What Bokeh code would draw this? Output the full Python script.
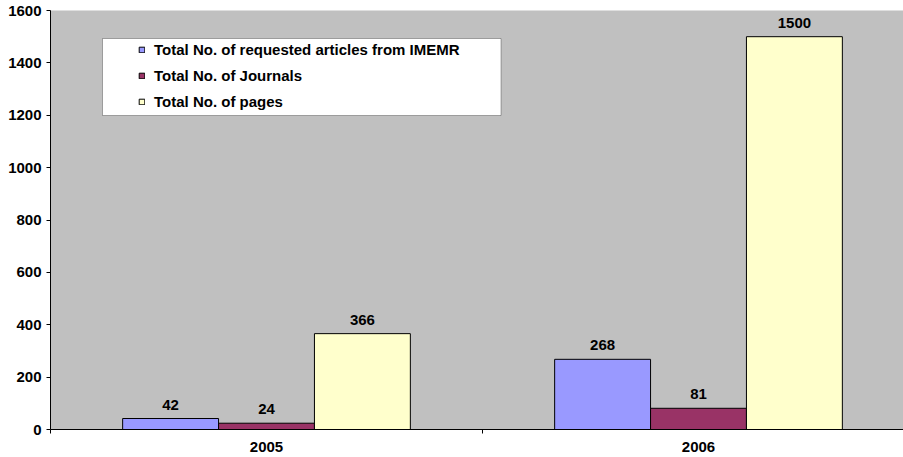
import numpy as np
from bokeh.plotting import figure
from bokeh.models import (Range1d, FixedTicker, Legend, LegendItem, BoxAnnotation,
                          ColumnDataSource)
from bokeh.core.properties import value
from bokeh.embed import file_html
from bokeh.resources import INLINE

# ---- data ----
years = ["2005", "2006"]
series_names = ["Total No. of requested articles from IMEMR",
                "Total No. of Journals",
                "Total No. of pages"]
articles = [42, 268]
journals = [24, 81]
pages = [366, 1500]
y_ticks = [0, 200, 400, 600, 800, 1000, 1200, 1400, 1600]

colors = ["#9999FF", "#993366", "#FFFFCC"]
FONT = "Liberation Sans"
FS = "15px"

# layout constants (pixels)
W, H = 903, 457
left_b, top_b, bottom_b = 50, 10, 28
frame_w = W - left_b
frame_h = H - top_b - bottom_b
frame_bottom = H - bottom_b
cat_px = 432.0

x_end = 0.5 + frame_w / cat_px
p = figure(width=W, height=H, output_backend="svg", toolbar_location=None,
           x_range=Range1d(0.5, x_end), y_range=Range1d(0, 1600),
           min_border_left=left_b, min_border_right=0,
           min_border_top=top_b, min_border_bottom=bottom_b)
p.background_fill_color = "#C0C0C0"
p.border_fill_color = "white"
p.outline_line_color = None
p.xgrid.visible = False
p.ygrid.visible = False

xc = np.arange(1, len(years) + 1)
bw = 0.222
offsets = [-bw, 0.0, bw]
series = [articles, journals, pages]

renderers = []
for vals, off, col in zip(series, offsets, colors):
    src = ColumnDataSource(dict(x=xc + off, top=vals, lab=[str(v) for v in vals]))
    r = p.vbar(x="x", top="top", width=bw, source=src, fill_color=col,
               line_color="black", line_width=1)
    renderers.append(r)
    p.text(x="x", y="top", text="lab", source=src, text_align="center",
           text_baseline="bottom", y_offset=-9, text_font=value(FONT),
           text_font_size=FS, text_font_style="bold", text_color="black")

# legend white box (drawn in data space from pixel constants)
def px_to_x(px):
    return 0.5 + (px - left_b) / cat_px

def py_to_y(py):
    return (frame_bottom - py) / frame_h * 1600

box = BoxAnnotation(left=px_to_x(102), right=px_to_x(500.5),
                    top=py_to_y(38), bottom=py_to_y(115),
                    fill_color="white", fill_alpha=1.0,
                    line_color="black", line_width=1)
p.add_layout(box)

legend = Legend(items=[LegendItem(label=n, renderers=[r]) for n, r in zip(series_names, renderers)],
                location=(88, 317), padding=0, margin=0,
                border_line_color=None, background_fill_alpha=0,
                label_text_font=FONT, label_text_font_size=FS,
                label_text_font_style="bold", label_text_color="black",
                glyph_width=7, glyph_height=7, label_standoff=9,
                label_height=21, spacing=5)
p.add_layout(legend)

# y axis
p.yaxis.ticker = FixedTicker(ticks=y_ticks)
p.yaxis.major_tick_out = 4
p.yaxis.major_tick_in = 0
p.yaxis.minor_tick_out = 0
p.yaxis.minor_tick_in = 0
p.yaxis.major_label_standoff = 5
p.yaxis.major_label_text_font = FONT
p.yaxis.major_label_text_font_size = FS
p.yaxis.major_label_text_font_style = "bold"
p.yaxis.major_label_text_color = "black"
p.yaxis.axis_line_color = "black"

# x axis: labels at category centers, ticks at boundaries
p.xaxis.ticker = FixedTicker(ticks=list(xc.astype(float)),
                             minor_ticks=[0.5, 1.5, 2.5])
p.xaxis.major_label_overrides = {float(i): y for i, y in zip(xc, years)}
p.xaxis.major_tick_out = 0
p.xaxis.major_tick_in = 0
p.xaxis.minor_tick_out = 4
p.xaxis.minor_tick_in = 0
p.xaxis.major_label_standoff = 8
p.xaxis.major_label_text_font = FONT
p.xaxis.major_label_text_font_size = FS
p.xaxis.major_label_text_font_style = "bold"
p.xaxis.major_label_text_color = "black"
p.xaxis.axis_line_color = "black"

open("out.html", "w").write(file_html(p, INLINE))
